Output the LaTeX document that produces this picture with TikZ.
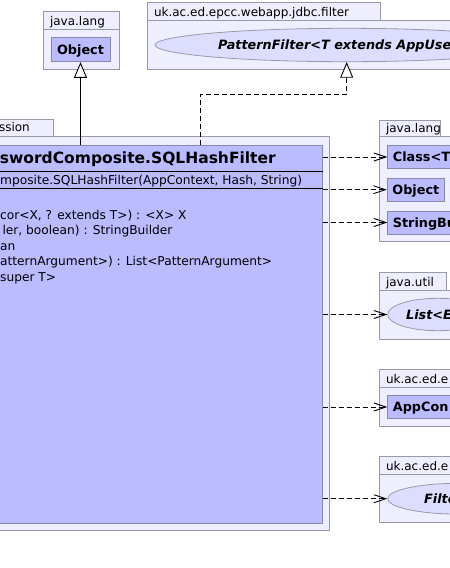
\documentclass[tikz,border=0pt]{standalone}
\usepackage{fontspec}
\setmainfont{DejaVu Sans}
\usetikzlibrary{arrows.meta,shapes.geometric,positioning}
\definecolor{pkgfill}{RGB}{238,238,255}
\definecolor{pkgline}{RGB}{153,153,170}
\definecolor{clsfill}{RGB}{187,187,255}
\definecolor{clsline}{RGB}{136,136,170}
\definecolor{ifcfill}{RGB}{221,221,255}
\tikzset{>=stealth,
  pkg/.style={draw=pkgline,fill=pkgfill,line width=0.9pt},
  cls/.style={draw=clsline,fill=clsfill,line width=0.9pt,inner sep=0pt},
  ifc/.style={ellipse,draw=pkgline,fill=ifcfill,line width=0.8pt,inner sep=0pt},
  lbl/.style={font=\fontsize{12}{14}\selectfont,inner sep=0pt,anchor=base west},
  mth/.style={font=\fontsize{12.2}{14}\selectfont,inner sep=0pt,anchor=base west},
  nm/.style={font=\bfseries\fontsize{12.8}{15}\selectfont,inner sep=0pt,text height=9.2pt,text depth=0pt},
  inm/.style={nm,font=\bfseries\itshape\fontsize{12.8}{15}\selectfont},
  gen/.style={line width=0.9pt,-{Triangle[length=15.6pt,width=13pt,fill=white]}},
  real/.style={gen,dash pattern=on 5pt off 3pt},
  dep/.style={line width=0.9pt,dash pattern=on 5pt off 3pt,-{Straight Barb[length=12pt,width=8pt]}}}
\begin{document}
\begin{tikzpicture}[x=1pt,y=-1pt]
\useasboundingbox (0,0) rectangle (450,568);
\clip (0,0) rectangle (450,568);

\foreach \xa/\ya/\xt/\yb/\xb/\yc/\txt [count=\i] in {
  43.3/11.7/119.3/29/119.3/69.3/java.lang,
  147.3/2.7/380/20.7/460/69.3/uk.ac.ed.epcc.webapp.jdbc.filter,
  379.3/120/440/136/460/241.7/java.lang,
  379.3/272.7/446/290/460/339.3/java.util,
  379.3/369.3/460/387.3/460/426/uk.ac.ed.e,
  379.3/456.7/460/474.3/460/522.3/uk.ac.ed.e} {
\draw[pkg] (\xa,\ya) rectangle (\xt,\yb);
\draw[pkg] (\xa,\yb) rectangle (\xb,\yc);
\node[lbl] (pk\i) at (\xa+6.5,\yb-4) {\txt};
};
\draw[pkg] (-10,119.3) rectangle (53.3,136);
\draw[pkg] (-10,136) rectangle (329.3,530);
\node[lbl,anchor=base east] (pk0) at (30,131.7) {ssion};

\node[cls,minimum width=59,minimum height=24.4] (obj1) at (80.5,49.5) {};
\node[nm] at (obj1) {Object};
\node[ifc,minimum width=383.4,minimum height=33.4] (pfilter) at (346.7,45) {};
\node[inm,anchor=west] (pfname) at (218,45) {PatternFilter<T extends AppUse};

\node[cls,anchor=north west,minimum width=331.7,minimum height=377.7] (hashf) at (-10,145) {};
\draw[line width=0.9pt] (-10,171.7) -- (hashf.east |- 0,171.7);
\draw[line width=0.9pt] (-10,188.3) -- (hashf.east |- 0,188.3);
\node[mth,anchor=base east,font=\bfseries\fontsize{15.5}{18}\selectfont] (ttl) at (276,163.5) {swordComposite.SQLHashFilter};
\node[mth] (ctor) at (0,184.5) {mposite.SQLHashFilter(AppContext, Hash, String)};
\node[mth] (m1) at (0,219) {cor<X, ? extends T>) : <X> X};
\node[mth] (m2) at (2.3,234.5) {ler, boolean) : StringBuilder};
\node[mth] (m3) at (0,250) {an};
\node[mth] (m4) at (0,265.8) {atternArgument>) : List<PatternArgument>};
\node[mth] (m5) at (0,281.3) {super T>};

\node[cls,anchor=west,minimum width=80,minimum height=22.6] (clsT) at (387.3,157) {};
\node[nm,right=5.4pt of clsT.west] {Class<T};
\node[cls,minimum width=57,minimum height=22.7] (obj2) at (415.8,189.7) {};
\node[nm] at (obj2) {Object};
\node[cls,anchor=west,minimum width=80,minimum height=23] (strB) at (387.3,222.5) {};
\node[nm,right=5.4pt of strB.west] {StringBu};
\node[ifc,anchor=west,minimum width=100,minimum height=32.4] (plist) at (387.3,314.5) {};
\node[inm,anchor=west] at (406,314.5) {List<E};
\node[cls,anchor=west,minimum width=80,minimum height=22.6] (appC) at (387.3,407) {};
\node[nm,right=5.4pt of appC.west] {AppCon};
\node[ifc,anchor=west,minimum width=140,minimum height=30.7] (filt) at (387.3,498.7) {};
\node[inm,anchor=west] at (424,498.7) {Filte};

\coordinate (bend) at (200.3,94.3);
\draw[gen] (hashf.north -| obj1.south) -- (obj1.south);
\draw[real] (bend |- hashf.north) -- (bend) -| (pfilter.south);
\foreach \t in {clsT,obj2,strB,plist,appC,filt} {
\draw[dep] (hashf.east |- \t.west) -- (\t.west);
};
\end{tikzpicture}
\end{document}
